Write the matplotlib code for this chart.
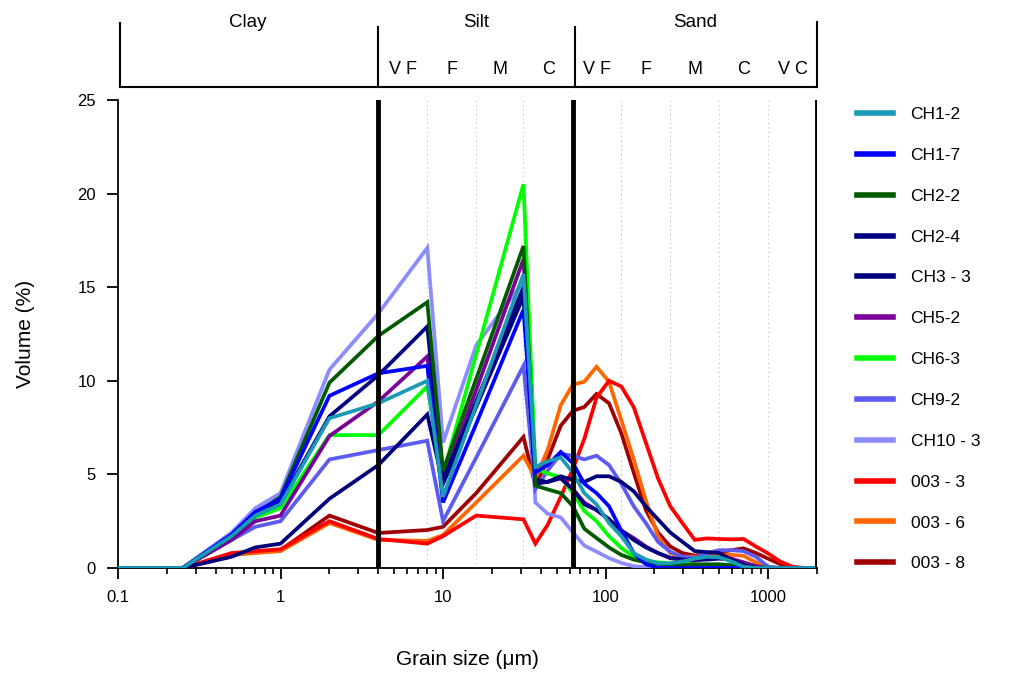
import matplotlib
matplotlib.use("Agg")
import matplotlib.pyplot as plt
import numpy as np

plt.rcParams['font.family'] = ['Liberation Sans', 'DejaVu Sans']

# Grain-size bins (µm)
sizes = [0.1, 0.25, 0.5, 0.7, 1, 2, 4, 8, 10, 16, 31.25, 37, 44, 53, 63, 74, 88,
         105, 125, 149, 177, 210, 250, 297, 354, 420, 500, 595, 707, 841, 1000,
         1190, 1410, 1680, 2000]

# Volume percentages per sample, one value per bin above
ch1_2 = [0, 0, 1.7, 2.8, 3.4, 8.0, 8.8, 10.0, 3.8, 8.7, 15.7, 5.4, 5.7, 5.9, 5.1, 4.0, 3.4,
         2.4, 1.7, 0.8, 0.45, 0.25, 0.25, 0.35, 0.5, 0.6, 0.57, 0.35, 0.07, 0, 0,
         0, 0, 0, 0]
ch1_7 = [0, 0, 1.8, 3.0, 3.7, 9.2, 10.4, 10.8, 3.5, 7.7, 13.8, 5.1, 5.5, 6.2, 5.6, 4.5, 4.0,
         3.3, 2.0, 0.8, 0.2, 0.02, 0, 0, 0, 0, 0, 0, 0, 0, 0,
         0, 0, 0, 0]
ch2_2 = [0, 0, 1.7, 2.9, 3.8, 9.9, 12.4, 14.2, 5.2, 10.1, 17.2, 4.4, 4.2, 4.0, 3.3, 2.1, 1.6,
         1.1, 0.7, 0.45, 0.3, 0.22, 0.15, 0.15, 0.2, 0.2, 0.2, 0.15, 0.05, 0, 0,
         0, 0, 0, 0]
ch2_4 = [0, 0, 1.7, 2.8, 3.5, 8.1, 10.3, 12.9, 4.7, 8.9, 15.0, 4.5, 4.6, 4.8, 4.2, 3.4, 3.1,
         2.6, 2.0, 1.5, 1.1, 0.8, 0.55, 0.45, 0.45, 0.45, 0.5, 0.45, 0.15, 0, 0,
         0, 0, 0, 0]
ch3_3 = [0, 0, 0.6, 1.1, 1.3, 3.7, 5.5, 8.2, 4.5, 8.6, 14.5, 4.7, 4.6, 4.9, 4.7, 4.6, 4.9,
         4.9, 4.6, 4.1, 3.3, 2.6, 1.9, 1.4, 0.9, 0.85, 0.8, 0.45, 0.15, 0, 0,
         0, 0, 0, 0]
ch5_2 = [0, 0, 1.5, 2.5, 2.8, 7.05, 8.9, 11.3, 4.7, 9.5, 16.5, 4.6, 4.6, 4.8, 4.2, 3.5, 3.1,
         2.6, 2.0, 1.6, 1.15, 0.8, 0.52, 0.45, 0.4, 0.5, 0.55, 0.5, 0.3, 0.1, 0,
         0, 0, 0, 0]
ch6_3 = [0, 0, 1.6, 2.7, 3.2, 7.1, 7.1, 9.7, 5.0, 11.4, 20.5, 5.3, 5.05, 4.85, 4.0, 3.05, 2.5,
         1.7, 1.07, 0.6, 0.4, 0.3, 0.25, 0.3, 0.4, 0.5, 0.55, 0.45, 0.3, 0.1, 0,
         0, 0, 0, 0]
ch9_2 = [0, 0, 1.5, 2.2, 2.5, 5.8, 6.3, 6.8, 2.5, 5.9, 10.8, 4.2, 5.2, 6.1, 6.0, 5.8, 6.0,
         5.5, 4.5, 3.3, 2.4, 1.4, 0.87, 0.6, 0.55, 0.8, 0.95, 0.95, 0.9, 0.6, 0.07,
         0, 0, 0, 0]
ch10_3 = [0, 0, 1.9, 3.2, 4.0, 10.6, 13.6, 17.1, 6.7, 11.9, 15.3, 3.5, 2.9, 2.7, 1.9, 1.2, 0.87,
          0.53, 0.27, 0.1, 0.03, 0, 0, 0, 0, 0, 0, 0, 0, 0, 0,
          0, 0, 0, 0]
s003_3 = [0, 0, 0.8, 0.9, 1.0, 2.5, 1.55, 1.3, 1.7, 2.8, 2.6, 1.3, 2.3, 3.8, 5.3, 6.9, 9.1,
          10.0, 9.7, 8.6, 6.7, 4.8, 3.3, 2.4, 1.5, 1.58, 1.55, 1.53, 1.55, 1.15, 0.78,
          0.34, 0.07, 0, 0]
s003_6 = [0, 0, 0.7, 0.8, 0.9, 2.4, 1.5, 1.45, 1.76, 3.5, 6.0, 4.8, 6.3, 8.7, 9.8, 9.95, 10.75,
          9.95, 7.9, 5.8, 3.6, 1.7, 0.8, 0.6, 0.6, 0.6, 0.7, 0.7, 0.65, 0.3, 0.05,
          0, 0, 0, 0]
s003_8 = [0, 0, 0.7, 0.85, 0.95, 2.8, 1.87, 2.03, 2.2, 4.0, 7.0, 4.4, 5.8, 7.6, 8.4, 8.6, 9.3,
          8.8, 7.2, 5.1, 3.1, 1.9, 1.15, 0.8, 0.66, 0.75, 0.85, 0.95, 1.05, 0.8, 0.5,
          0.2, 0, 0, 0]

labels = ["CH1-2", "CH1-7", "CH2-2", "CH2-4", "CH3 - 3", "CH5-2", "CH6-3",
          "CH9-2", "CH10 - 3", "003 - 3", "003 - 6", "003 - 8"]
series = [ch1_2, ch1_7, ch2_2, ch2_4, ch3_3, ch5_2, ch6_3, ch9_2, ch10_3,
          s003_3, s003_6, s003_8]
colors = ["#1a9bb5", "#0000ff", "#005a00", "#000080", "#00007a", "#7b0099",
          "#00ff00", "#5b5bf0", "#8c8cff", "#ff0000", "#ff6600", "#a00000"]

# Class boundaries and sub-class dividers (µm)
class_bounds = [4, 63, 2000]
sub_bounds = [8, 16, 31.25, 125, 250, 500, 1000]
class_names = [("Clay", 0.1, 4), ("Silt", 4, 63), ("Sand", 63, 2000)]
sub_names = [("V F", 4, 8), ("F", 8, 16), ("M", 16, 31.25), ("C", 31.25, 63),
             ("V F", 63, 125), ("F", 125, 250), ("M", 250, 500), ("C", 500, 1000),
             ("V C", 1000, 2000)]

W, H = 1014, 678
fig = plt.figure(figsize=(W / 100, H / 100), dpi=100)

x0, x1 = 118, 817
ax = fig.add_axes([x0 / W, (H - 568) / H, (x1 - x0) / W, (568 - 100) / H])
n = len(series)
for i, (lab, vals, c) in enumerate(zip(labels, series, colors)):
    ax.plot(sizes, vals, color=c, lw=2.7, label=lab, zorder=10 + n - i,
            solid_joinstyle='miter')

ax.set_xscale('log')
ax.set_xlim(0.1, 2000)
ax.set_ylim(0, 25)
ax.set_yticks([0, 5, 10, 15, 20, 25])
ax.set_xticks([0.1, 1, 10, 100, 1000])
ax.set_xticklabels(["0.1", "1", "10", "100", "1000"])
ax.tick_params(axis='both', which='major', length=8, width=1.3, labelsize=12,
               direction='out', pad=8)
ax.tick_params(axis='x', which='minor', length=4, width=1.2, direction='out')
for s in ['top', 'right']:
    ax.spines[s].set_visible(False)
for s in ['left', 'bottom']:
    ax.spines[s].set_linewidth(1.3)
ax.spines['bottom'].set_zorder(1)

for b in class_bounds:
    ax.axvline(b, color='black', lw=3.5, zorder=30)
for b in sub_bounds:
    ax.axvline(b, color='#bbbbbb', lw=0.8, ls=(0, (1, 3)), zorder=1)

ax.set_ylabel("Volume (%)", fontsize=15, labelpad=30)
ax.set_xlabel("Grain size (\u03bcm)", fontsize=15, labelpad=32)

leg = ax.legend(loc='upper left', bbox_to_anchor=(1.047, 1.0), frameon=False,
                fontsize=12.5, handlelength=2.1, handletextpad=1.0,
                labelspacing=1.48, borderaxespad=0)
for line in leg.get_lines():
    line.set_linewidth(4)

# Header band with class and sub-class names
hd = fig.add_axes([x0 / W, (H - 87) / H, (x1 - x0) / W, 67 / H])
hd.set_xscale('log')
hd.set_xlim(0.1, 2000)
hd.set_ylim(0, 1)
hd.axis('off')
hd.plot([0.103, 2000], [0, 0], color='black', lw=1.5, clip_on=False)
for xv, top in [(0.103, 0.955), (4, 0.9), (65, 0.9), (2000, 0.97)]:
    hd.plot([xv, xv], [0, top], color='black', lw=1.5, clip_on=False)
for name, a, b in class_names:
    hd.text(np.sqrt(a * b), 0.97, name, ha='center', va='center', fontsize=13.5)
for name, a, b in sub_names:
    hd.text(np.sqrt(a * b), 0.26, name, ha='center', va='center', fontsize=13)

fig.savefig("out.png", dpi=100)
